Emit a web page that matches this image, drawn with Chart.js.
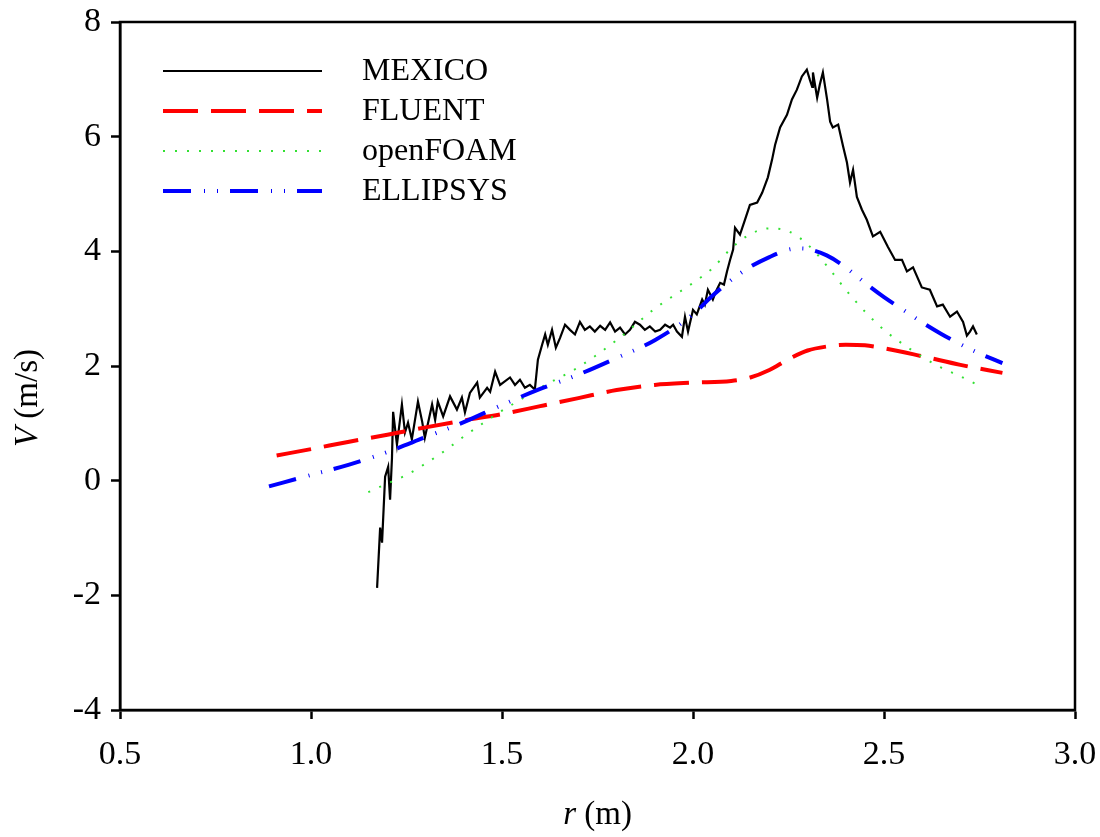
<!DOCTYPE html>
<html>
<head>
<meta charset="utf-8">
<script src="https://cdn.jsdelivr.net/npm/chart.js@4"></script>
<style>
  html, body { margin: 0; padding: 0; background: #fff; }
  #wrap { width: 1100px; height: 837px; }
</style>
</head>
<body>
<div id="wrap"><canvas id="c"></canvas></div>
<script>
// Radial velocity profiles: measurement and three CFD codes
const xTicks = [0.5, 1.0, 1.5, 2.0, 2.5, 3.0];
const yTicks = [-4, -2, 0, 2, 4, 6, 8];

const mexicoR = [1.173,1.181,1.186,1.194,1.202,1.207,1.212,1.215,1.225,1.238,
  1.246,1.254,1.264,1.280,1.291,1.298,1.317,1.325,1.332,1.346,
  1.364,1.382,1.395,1.403,1.416,1.435,1.442,1.461,1.469,1.482,
  1.495,1.503,1.521,1.534,1.547,1.560,1.573,1.586,1.594,1.605,
  1.613,1.620,1.631,1.641,1.652,1.665,1.678,1.691,1.704,1.717,
  1.730,1.743,1.757,1.770,1.783,1.796,1.809,1.822,1.835,1.848,
  1.861,1.874,1.887,1.901,1.914,1.927,1.940,1.948,1.958,1.971,
  1.979,1.987,2.000,2.010,2.024,2.031,2.039,2.052,2.060,2.071,
  2.081,2.089,2.097,2.105,2.110,2.123,2.136,2.149,2.168,2.181,
  2.196,2.207,2.215,2.228,2.246,2.259,2.272,2.285,2.298,2.306,
  2.312,2.314,2.325,2.332,2.340,2.351,2.359,2.366,2.380,2.393,
  2.403,2.411,2.419,2.429,2.442,2.455,2.471,2.490,2.510,2.529,
  2.547,2.560,2.576,2.599,2.620,2.639,2.654,2.673,2.691,2.707,
  2.717,2.725,2.733,2.743];
const mexicoV = [-1.87,-0.82,-1.08,0.07,0.24,-0.33,0.40,1.20,0.63,1.33,
  0.84,1.01,0.72,1.38,1.03,0.75,1.33,1.06,1.38,1.12,
  1.47,1.24,1.45,1.19,1.53,1.71,1.45,1.62,1.55,1.90,
  1.67,1.71,1.80,1.67,1.76,1.62,1.67,1.59,2.11,2.37,
  2.55,2.37,2.63,2.32,2.49,2.72,2.63,2.55,2.77,2.63,
  2.69,2.60,2.70,2.63,2.76,2.60,2.67,2.55,2.63,2.77,
  2.72,2.63,2.69,2.60,2.63,2.72,2.67,2.72,2.60,2.51,
  2.86,2.60,2.98,2.90,3.16,3.07,3.33,3.16,3.30,3.45,
  3.42,3.65,3.85,4.03,4.41,4.29,4.55,4.81,4.85,5.02,
  5.29,5.60,5.86,6.16,6.38,6.65,6.82,7.05,7.17,6.99,
  6.87,7.12,6.68,6.91,7.12,6.65,6.26,6.16,6.21,5.83,
  5.55,5.20,5.42,4.95,4.73,4.55,4.26,4.34,4.08,3.85,
  3.85,3.65,3.72,3.37,3.33,3.04,3.07,2.86,2.95,2.77,
  2.53,2.60,2.69,2.55];

const fluentR = [0.91,1.0,1.1,1.2,1.3,1.4,1.5,1.6,1.7,1.8,1.9,2.0,2.1,2.15,2.2,2.25,2.3,2.35,2.4,2.45,2.5,2.6,2.7,2.81];
const fluentV = [0.44,0.55,0.68,0.80,0.93,1.05,1.16,1.30,1.44,1.58,1.67,1.71,1.74,1.80,1.93,2.12,2.27,2.34,2.37,2.36,2.31,2.17,2.02,1.88];

const openfoamR = [1.15,1.2,1.25,1.3,1.35,1.4,1.45,1.5,1.55,1.6,1.7,1.8,1.9,2.0,2.05,2.1,2.15,2.2,2.25,2.3,2.35,2.4,2.45,2.5,2.55,2.6,2.65,2.7,2.745];
const openfoamV = [-0.20,-0.05,0.10,0.30,0.52,0.77,1.00,1.22,1.42,1.62,1.98,2.45,3.00,3.45,3.70,4.05,4.30,4.40,4.35,4.12,3.75,3.33,2.95,2.63,2.38,2.16,1.97,1.82,1.67];

const ellipsysR = [0.89,1.0,1.1,1.2,1.3,1.4,1.5,1.6,1.7,1.8,1.9,2.0,2.05,2.1,2.15,2.2,2.25,2.28,2.3,2.35,2.4,2.45,2.5,2.55,2.6,2.65,2.7,2.75,2.81];
const ellipsysV = [-0.10,0.10,0.28,0.50,0.76,1.02,1.32,1.60,1.85,2.14,2.45,2.90,3.22,3.50,3.73,3.90,4.03,4.05,4.04,3.93,3.72,3.45,3.20,2.98,2.76,2.56,2.38,2.22,2.05];

const seriesNames = ['MEXICO', 'FLUENT', 'openFOAM', 'ELLIPSYS'];

const FONT = '"Liberation Serif", "Times New Roman", serif';
const pts = (xs, ys) => xs.map((x, i) => ({ x, y: ys[i] }));

// closed box around the plotting area
const frame = {
  id: 'frame',
  afterDraw(chart) {
    const { ctx, chartArea: a } = chart;
    ctx.save();
    ctx.strokeStyle = '#000';
    ctx.lineWidth = 2.5;
    ctx.strokeRect(a.left, a.top, a.right - a.left, a.bottom - a.top);
    ctx.restore();
  }
};

// legend block in the upper-left corner of the plot
const legendBox = {
  id: 'legendBox',
  afterDraw(chart) {
    const { ctx, chartArea: a } = chart;
    ctx.save();
    chart.data.datasets.forEach((ds, i) => {
      const y = a.top + 49 + i * 40;
      ctx.beginPath();
      ctx.setLineDash(ds.borderDash || []);
      ctx.lineWidth = ds.borderWidth;
      ctx.strokeStyle = ds.borderColor;
      ctx.lineCap = 'butt';
      ctx.moveTo(a.left + 43, y);
      ctx.lineTo(a.left + 202, y);
      ctx.stroke();
      ctx.setLineDash([]);
      ctx.fillStyle = '#000';
      ctx.font = `32px ${FONT}`;
      ctx.textBaseline = 'middle';
      ctx.textAlign = 'left';
      ctx.fillText(ds.label, a.left + 242, y + 1);
    });
    ctx.restore();
  }
};

// axis titles with italic symbols
const axisTitles = {
  id: 'axisTitles',
  afterDraw(chart) {
    const { ctx, chartArea: a } = chart;
    const drawMixed = (parts, cx, cy) => {
      let total = 0;
      parts.forEach(p => { ctx.font = p.f; total += ctx.measureText(p.t).width; });
      let x = cx - total / 2;
      parts.forEach(p => {
        ctx.font = p.f;
        ctx.fillText(p.t, x, cy);
        x += ctx.measureText(p.t).width;
      });
    };
    ctx.save();
    ctx.fillStyle = '#000';
    ctx.textBaseline = 'middle';
    ctx.textAlign = 'left';
    drawMixed([{ t: 'r', f: `italic 33px ${FONT}` }, { t: ' (m)', f: `33px ${FONT}` }],
      (a.left + a.right) / 2, 815);
    ctx.translate(28, 398);
    ctx.rotate(-Math.PI / 2);
    drawMixed([{ t: 'V', f: `italic 33px ${FONT}` }, { t: ' (m/s)', f: `33px ${FONT}` }], 0, 0);
    ctx.restore();
  }
};

const lineOpts = { pointRadius: 0, fill: false, cubicInterpolationMode: 'monotone' };

new Chart(document.getElementById('c'), {
  type: 'line',
  data: {
    datasets: [
      { label: seriesNames[0], data: pts(mexicoR, mexicoV), borderColor: '#000', borderWidth: 2.2,
        pointRadius: 0, tension: 0, order: 4 },
      { label: seriesNames[1], data: pts(fluentR, fluentV), borderColor: '#ff0000', borderWidth: 4,
        borderDash: [35, 13], order: 3, ...lineOpts },
      { label: seriesNames[2], data: pts(openfoamR, openfoamV), borderColor: '#33e033', borderWidth: 2,
        borderDash: [2, 10], order: 2, ...lineOpts },
      { label: seriesNames[3], data: pts(ellipsysR, ellipsysV), borderColor: '#0000ff', borderWidth: 4,
        borderDash: [28, 13, 1, 12, 1, 12], order: 1, ...lineOpts }
    ]
  },
  options: {
    responsive: true,
    maintainAspectRatio: false,
    animation: false,
    layout: { padding: { left: 0, right: 25, top: 22, bottom: 0 } },
    plugins: { legend: { display: false }, tooltip: { enabled: false } },
    scales: {
      x: {
        type: 'linear', min: 0.5, max: 3.0,
        afterBuildTicks: s => { s.ticks = xTicks.map(v => ({ value: v })); },
        afterFit: s => { s.height = 127; s.paddingLeft = 0; s.paddingRight = 0; },
        ticks: { color: '#000', font: { family: FONT, size: 34 }, padding: 16,
          callback: v => v.toFixed(1), maxRotation: 0 },
        grid: { drawOnChartArea: false, drawTicks: true, tickLength: 9, tickWidth: 2.5, tickColor: '#000' },
        border: { display: true, color: '#000', width: 2.5 }
      },
      y: {
        type: 'linear', min: -4, max: 8,
        afterBuildTicks: s => { s.ticks = yTicks.map(v => ({ value: v })); },
        afterFit: s => { s.width = 120; s.paddingTop = 0; s.paddingBottom = 0; },
        ticks: { color: '#000', font: { family: FONT, size: 34 }, padding: 10,
          callback: v => String(v) },
        grid: { drawOnChartArea: false, drawTicks: true, tickLength: 9, tickWidth: 2.5, tickColor: '#000' },
        border: { display: true, color: '#000', width: 2.5 }
      }
    }
  },
  plugins: [frame, legendBox, axisTitles]
});
</script>
</body>
</html>
